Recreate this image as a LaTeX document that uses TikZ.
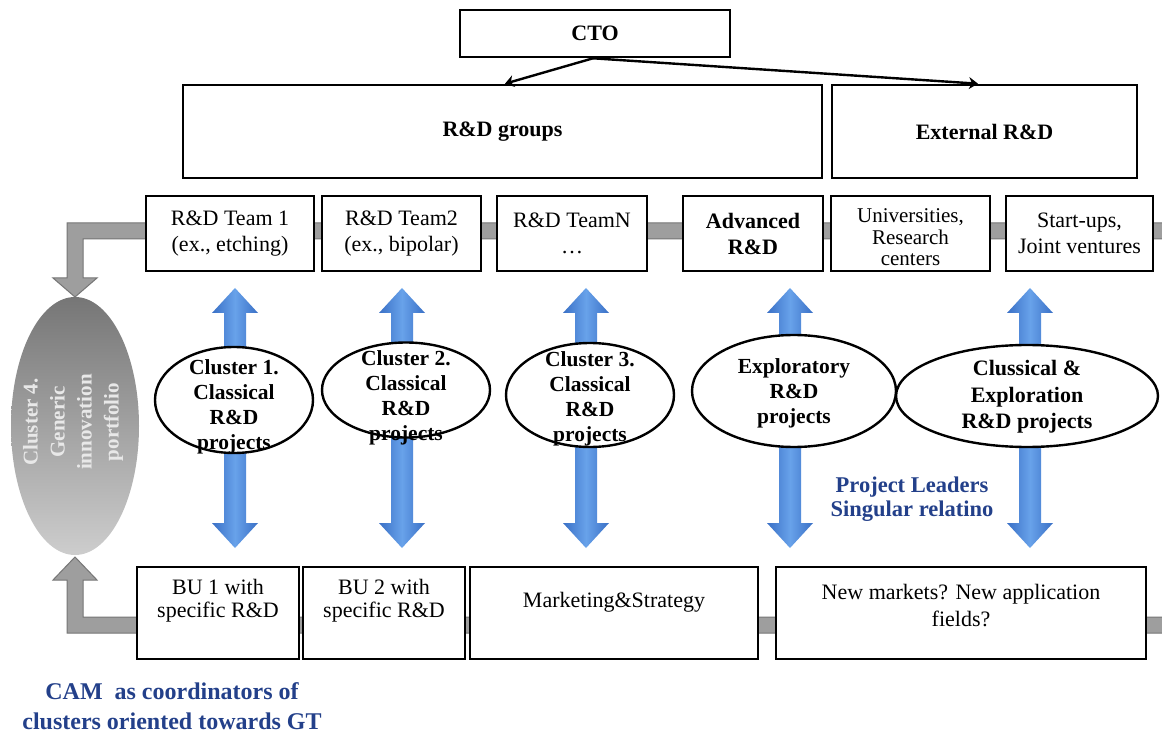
\documentclass[tikz,border=0pt]{standalone}
\usepackage{fontspec}
\setmainfont{Liberation Serif}
\usetikzlibrary{arrows.meta,shapes.geometric}

\definecolor{barfill}{RGB}{158,158,158}
\definecolor{baredge}{RGB}{118,118,118}
\definecolor{bluedark}{RGB}{58,112,198}
\definecolor{bluelight}{RGB}{104,162,234}
\definecolor{txtblue}{RGB}{35,64,138}
\definecolor{elltop}{RGB}{118,118,118}
\definecolor{ellbot}{RGB}{205,205,205}
\definecolor{elltext}{RGB}{232,232,232}

\newcommand\bluedbl[1]{%
  \shade[bluearrow] (#1,288) -- (#1+23,313) -- (#1+11,313) -- (#1+11,523) -- (#1+23,523)
    -- (#1,548) -- (#1-23,523) -- (#1-11,523) -- (#1-11,313) -- (#1-23,313) -- cycle;}

\begin{document}
\begin{tikzpicture}[x=1pt,y=-1pt,
  boxtext/.style={align=center, font=\fontsize{22}{26}\selectfont},
  box/.style={draw=black, line width=2.6pt, fill=white, rectangle, inner sep=0pt, boxtext},
  bbox/.style={box, font=\bfseries\fontsize{22}{26}\selectfont},
  clus/.style={ellipse, draw=black, line width=2.4pt, fill=white, inner sep=0pt},
  clustext/.style={align=center, font=\bfseries\fontsize{21.5}{25}\selectfont},
  ctoarrow/.style={line width=2.4pt, -{Stealth[length=9pt,width=12pt]}},
  graybar/.style={fill=barfill, draw=baredge, line width=1pt},
  bluearrow/.style={left color=bluedark, right color=bluedark, middle color=bluelight},
  note/.style={text=txtblue, align=center, font=\bfseries\fontsize{22.5}{23.5}\selectfont}
]
\fill[white] (0,0) rectangle (1162,735);
\useasboundingbox (0,0) rectangle (1162,735);

% grey feedback bars
\filldraw[graybar] (1163,223) -- (67,223) -- (67,278) -- (53,278) -- (75,297) -- (97,278)
  -- (83,278) -- (83,239) -- (1163,239) -- cycle;
\filldraw[graybar] (1163,633) -- (67,633) -- (67,580) -- (53,580) -- (75,557) -- (97,580)
  -- (83,580) -- (83,617) -- (1163,617) -- cycle;

% blue double arrows
\bluedbl{235}
\bluedbl{402}
\bluedbl{586}
\bluedbl{790}
\bluedbl{1030}

% top boxes
\node[bbox, minimum width=270, minimum height=47] (cto) at (595,33.5) {CTO};
\node[bbox, minimum width=639, minimum height=93] (rdg) at (502.5,131.5) {R\&D groups};
\node[bbox, minimum width=305, minimum height=93] (ext) at (984.5,131.5) {External R\&D};
\draw[ctoarrow] ([xshift=-2pt]cto.south) -- ([xshift=2.5pt]rdg.north);
\draw[ctoarrow] ([xshift=-2pt]cto.south) -- ([xshift=-6.5pt]ext.north);

% team row
\node[box, minimum width=168, minimum height=75] (t1) at (230,233.5) {R\&D Team 1\\(ex., etching)};
\node[box, minimum width=159, minimum height=75] (t2) at (401.5,233.5) {R\&D Team2\\(ex., bipolar)};
\node[box, minimum width=150, minimum height=75] (tn) at (572,233.5) {R\&D TeamN\\\ldots};
\node[bbox, minimum width=140, minimum height=75] (adv) at (753,233.5) {Advanced\\R\&D};
\node[box, minimum width=159, minimum height=75,
  label={[align=center, font=\fontsize{21}{21.5}\selectfont, yshift=-4pt]center:{Universities,\\Research\\centers}}]
  (uni) at (910.5,233.5) {};
\node[box, minimum width=147, minimum height=75] (su) at (1079.5,233.5) {Start-ups,\\Joint ventures};

% bottom row
\node[box, minimum width=162, minimum height=92,
  label={[boxtext, font=\fontsize{22}{23}\selectfont, yshift=12pt]center:{BU 1 with\\specific R\&D}}] (bu1) at (218,613) {};
\node[box, minimum width=162, minimum height=92,
  label={[boxtext, font=\fontsize{22}{23}\selectfont, yshift=12pt]center:{BU 2 with\\specific R\&D}}] (bu2) at (384,613) {};
\node[box, minimum width=288, minimum height=92,
  label={[boxtext, yshift=11pt]center:{Marketing\&Strategy}}] (mkt) at (614,613) {};
\node[box, minimum width=370, minimum height=92,
  label={[boxtext, font=\fontsize{22}{27}\selectfont, yshift=7pt]center:{New markets? New application\\fields?}}] (nm) at (961,613) {};

% cluster ellipses
\node[clus, minimum width=158, minimum height=106] (c1) at (234,400) {};
\node[clustext] (c1t) at (234,407) {Cluster 1.\\Classical\\R\&D\\projects};
\node[clus, minimum width=168, minimum height=95] (c2) at (406,390) {};
\node[clustext] (c2t) at (406,398) {Cluster 2.\\Classical\\R\&D\\projects};
\node[clus, minimum width=168, minimum height=104] (c3) at (590,395) {};
\node[clustext] (c3t) at (590,399) {Cluster 3.\\Classical\\R\&D\\projects};
\node[clus, minimum width=204, minimum height=112] (ex) at (794,391) {};
\node[clustext] (ext2) at (794,393) {Exploratory\\R\&D\\projects};
\node[clus, minimum width=262, minimum height=102] (ce) at (1027,396) {};
\node[clustext, font=\bfseries\fontsize{22}{26.5}\selectfont] (cet) at (1027,397) {Clussical \&\\Exploration\\R\&D projects};

% cluster 4
\node[ellipse, top color=elltop, bottom color=ellbot, minimum width=128, minimum height=258, inner sep=0pt] (c4) at (75,426) {};
\node[rotate=90, text=elltext, align=center, font=\bfseries\fontsize{21}{27}\selectfont] (c4t) at (73,422)
  {Cluster 4.\\Generic\\innovation\\portfolio};

% notes
\node[note] (pl) at (912,499) {Project Leaders\\Singular relatino};
\node[note, font=\bfseries\fontsize{24}{29.5}\selectfont] (cam) at (172,706) {CAM\ \ as coordinators of\\clusters oriented towards GT};
\end{tikzpicture}
\end{document}
